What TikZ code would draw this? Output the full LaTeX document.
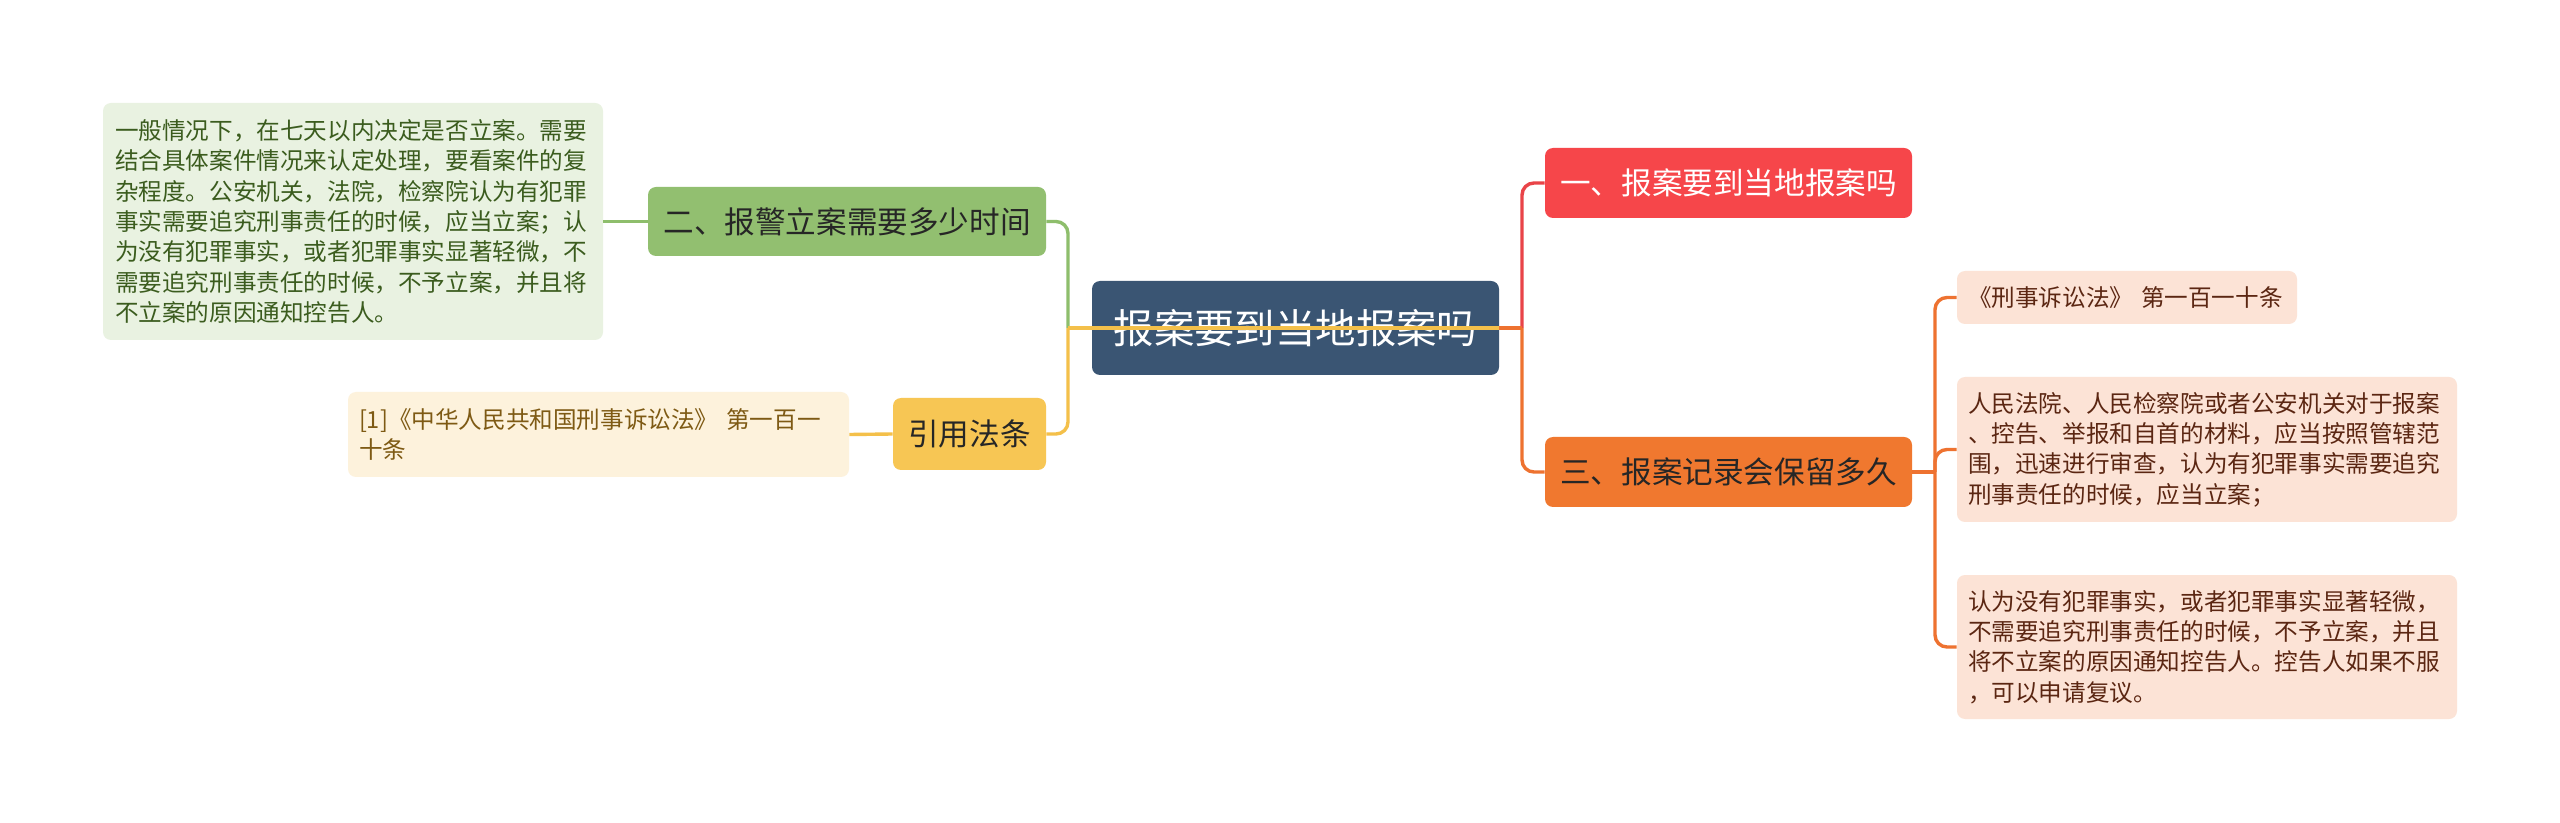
\documentclass[tikz,border=0pt]{standalone}
\usepackage{fontspec}
\setmainfont{Noto Sans CJK SC}
\usepackage{xcolor}
\usepackage{tikz}

\definecolor{rootblue}{HTML}{3A5573}
\definecolor{redfill}{HTML}{F6464A}
\definecolor{redline}{HTML}{E94448}
\definecolor{orangefill}{HTML}{F0782F}
\definecolor{orangeline}{HTML}{EE7230}
\definecolor{greenfill}{HTML}{92BF70}
\definecolor{greenline}{HTML}{8EBE6C}
\definecolor{yellowfill}{HTML}{F7C654}
\definecolor{yellowline}{HTML}{F4C04A}
\definecolor{greenleaf}{HTML}{E9F2E1}
\definecolor{greentext}{HTML}{3B5C1E}
\definecolor{yellowleaf}{HTML}{FDF2DC}
\definecolor{yellowtext}{HTML}{7E5A14}
\definecolor{peachleaf}{HTML}{FCE3D6}
\definecolor{peachtext}{HTML}{5B2612}

\tikzset{
    topic/.style={rounded corners=4pt, inner sep=0pt, align=center, font=\fontsize{15.3}{18}\selectfont},
    leaf/.style={rounded corners=4pt, inner ysep=0pt, align=left, font=\fontsize{11.8}{15.2}\selectfont},
    link/.style={line width=1.7pt, rounded corners=6pt},
}

\begin{document}
\begin{tikzpicture}[x=0.5pt, y=-0.5pt]
        \fill[white] (0, 0) rectangle (2560, 823);
        \useasboundingbox (0, 0) rectangle (2560, 823);
        \node[topic, fill=rootblue, text=white, minimum width=203.5pt, minimum height=47pt, font=\fontsize{20.2}{24}\selectfont] (root) at (1295.5, 328) {报案要到当地报案吗};
        \node[topic, fill=redfill, text=white, minimum width=183.5pt, minimum height=35pt] (one) at (1728.5, 183) {一、报案要到当地报案吗};
        \node[topic, fill=orangefill, text=black!85, minimum width=183.5pt, minimum height=35pt] (three) at (1728.5, 472) {三、报案记录会保留多久};
        \node[topic, fill=greenfill, text=black!85, minimum width=199pt, minimum height=34.5pt] (two) at (847, 221.5) {二、报警立案需要多少时间};
        \node[topic, fill=yellowfill, text=black!85, minimum width=76.5pt, minimum height=36pt] (cite) at (969.5, 434) {引用法条};
        \node[leaf, fill=greenleaf, text=greentext, inner xsep=6pt, text width=238pt, minimum height=118.5pt] (twoleaf) at (353, 221.5) {一般情况下，在七天以内决定是否立案。需要\\结合具体案件情况来认定处理，要看案件的复\\杂程度。公安机关，法院，检察院认为有犯罪\\事实需要追究刑事责任的时候，应当立案；认\\为没有犯罪事实，或者犯罪事实显著轻微，不\\需要追究刑事责任的时候，不予立案，并且将\\不立案的原因通知控告人。};
        \node[leaf, fill=yellowleaf, text=yellowtext, inner xsep=5.5pt, text width=239.5pt, minimum height=42.5pt] (citeleaf) at (598.5, 434.5) {[1]《中华人民共和国刑事诉讼法》~第一百一\\十条};
        \node[leaf, fill=peachleaf, text=peachtext, inner xsep=5.5pt, text width=159pt, minimum height=26.5pt] (leafa) at (2127, 297.5) {《刑事诉讼法》~第一百一十条};
        \node[leaf, fill=peachleaf, text=peachtext, inner xsep=5.5pt, text width=239pt, minimum height=72.5pt] (leafb) at (2207, 449.5) {人民法院、人民检察院或者公安机关对于报案\\、控告、举报和自首的材料，应当按照管辖范\\围，迅速进行审查，认为有犯罪事实需要追究\\刑事责任的时候，应当立案；};
        \node[leaf, fill=peachleaf, text=peachtext, inner xsep=5.5pt, text width=239pt, minimum height=72pt] (leafc) at (2207, 647) {认为没有犯罪事实，或者犯罪事实显著轻微，\\不需要追究刑事责任的时候，不予立案，并且\\将不立案的原因通知控告人。控告人如果不服\\，可以申请复议。};
        \coordinate (rj) at (1522, 328);
        \coordinate (lj) at (1068, 328);
        \coordinate (oj) at (1935, 472);
        \draw[link, redline] (rj) |- (one.west);
        \draw[link, orangeline] (rj) |- (three.west);
        \draw[link, orangeline] (root.east) -- (rj);
        \draw[link, greenline] (lj) |- (two.east);
        \draw[link, yellowline] (lj) |- (cite.east);
        \draw[link, yellowline] (root.east) -- (lj);
        \draw[link, greenline] (two.west) -- (twoleaf.east);
        \draw[link, yellowline] (cite.west) -- (citeleaf.east);
        \draw[link, orangeline] (three.east) -- (oj);
        \draw[link, orangeline] (oj) |- (leafa.west);
        \draw[link, orangeline] (oj) |- (leafb.west);
        \draw[link, orangeline] (oj) |- (leafc.west);
\end{tikzpicture}
\end{document}
